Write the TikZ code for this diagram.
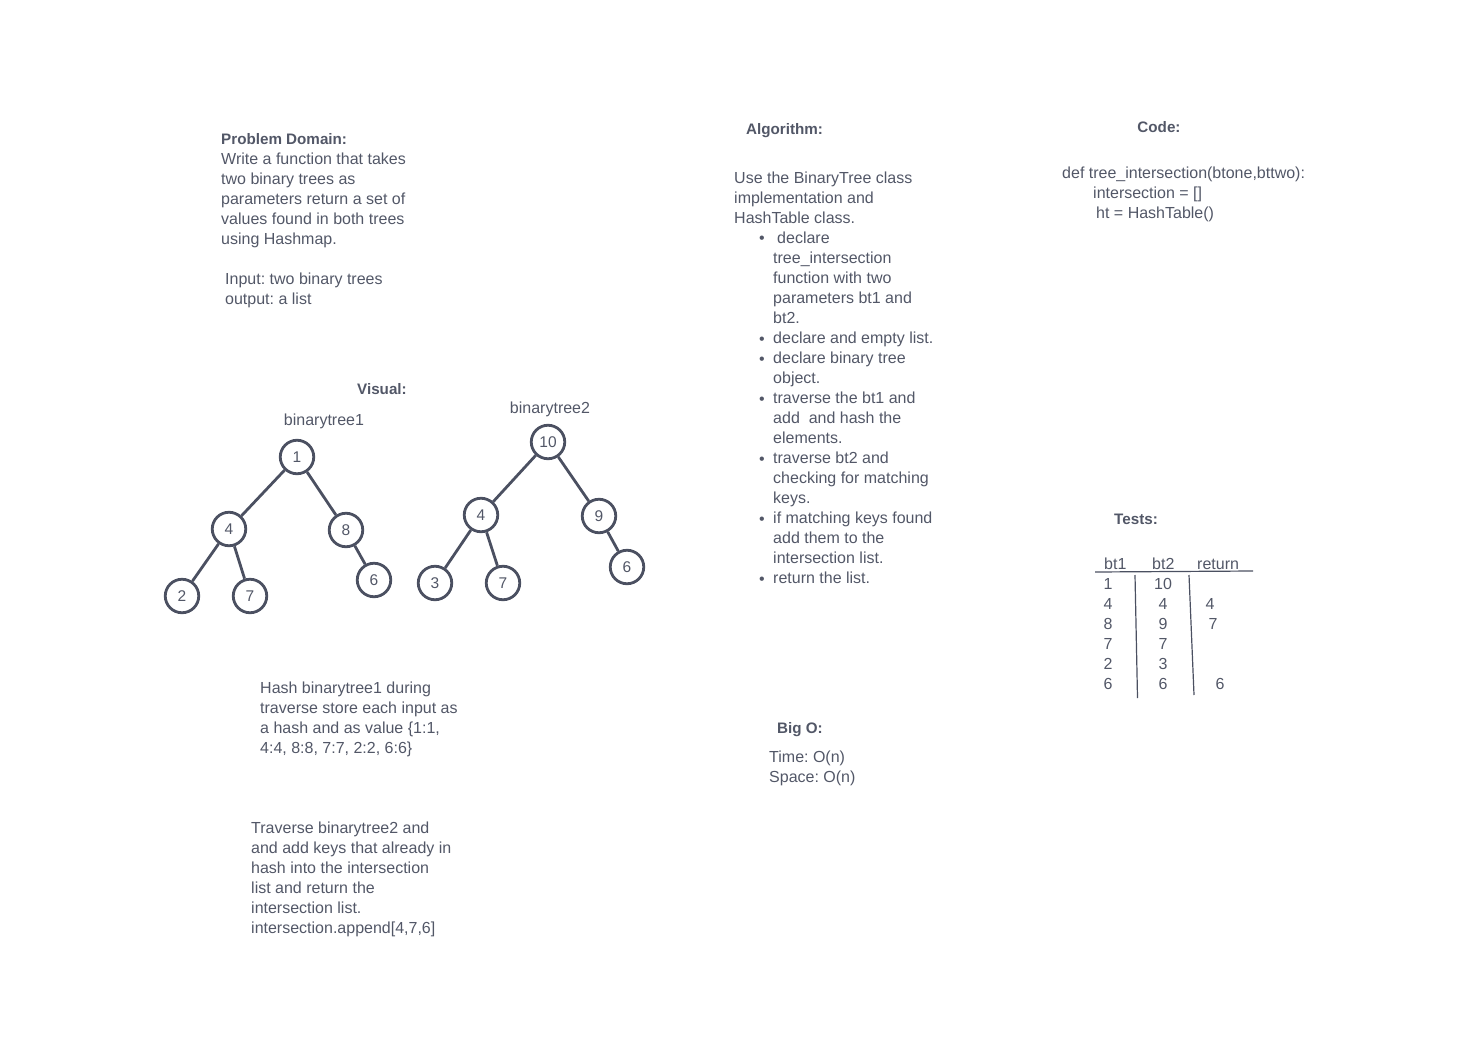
\documentclass[tikz,border=0pt]{standalone}
\usepackage{fontspec}
\setmainfont{Liberation Sans}
\frenchspacing
\definecolor{txtc}{HTML}{525767}
\definecolor{linec}{HTML}{4B5061}
\tikzset{
  txt/.style={inner sep=0pt, text=txtc, font=\fontsize{16}{20}\selectfont, anchor=base west},
  head/.style={txt, font=\fontsize{15.2}{20}\selectfont\bfseries},
  tnode/.style={circle, draw=linec, line width=2.8pt, minimum size=33.5pt, inner sep=0pt, text=txtc, font=\fontsize{15.5}{18}\selectfont},
  tedge/.style={draw=linec, line width=2.8pt},
  tline/.style={draw=linec, line width=1.2pt}
}
\newcommand\textblock[4]{%
  \foreach \t [count=\i from 0] in {#4} {
    \node[txt] (#1-\i) at (#2, {#3+20*\i}) {\t};
  }%
}
\begin{document}
\begin{tikzpicture}[x=1pt, y=-1pt]
\useasboundingbox (0,0) rectangle (1482,1054);
% Problem domain
\node[head] (pdh) at (221,144) {Problem Domain:};
\textblock{pd}{221}{164}{{Write a function that takes},{two binary trees as},{parameters return a set of},{values found in both trees},{using Hashmap.}}
\textblock{io}{225}{284}{{Input: two binary trees},{output: a list}}
% Visual
\node[head] (vis) at (357,394) {Visual:};
\node[txt, anchor=base] (bt1) at (324,425) {binarytree1};
\node[txt, anchor=base] (bt2) at (550,413) {binarytree2};
% tree 1
\node[tnode] (a1) at (297,457) {1};
\node[tnode] (a4) at (229,529) {4};
\node[tnode] (a8) at (346,530) {8};
\node[tnode] (a2) at (182,596) {2};
\node[tnode] (a7) at (250,596) {7};
\node[tnode] (a6) at (374,580) {6};
\draw[tedge] (a1) -- (a4);
\draw[tedge] (a1) -- (a8);
\draw[tedge] (a4) -- (a2);
\draw[tedge] (a4) -- (a7);
\draw[tedge] (a8) -- (a6);
% tree 2
\node[tnode] (b10) at (548,442) {10};
\node[tnode] (b4) at (481,515) {4};
\node[tnode] (b9) at (599,516) {9};
\node[tnode] (b3) at (435,583) {3};
\node[tnode] (b7) at (503,583) {7};
\node[tnode] (b6) at (627,567) {6};
\draw[tedge] (b10) -- (b4);
\draw[tedge] (b10) -- (b9);
\draw[tedge] (b4) -- (b3);
\draw[tedge] (b4) -- (b7);
\draw[tedge] (b9) -- (b6);
% hash text
\textblock{hs}{260}{693}{{Hash binarytree1 during},{traverse store each input as},{a hash and as value \{1:1,},{4:4, 8:8, 7:7, 2:2, 6:6\}}}
\textblock{tr}{251}{833}{{Traverse binarytree2 and},{and add keys that already in},{hash into the intersection},{list and return the},{intersection list.},{intersection.append[4,7,6]}}
% Algorithm
\node[head] (alh) at (746,135) {Algorithm:};
\textblock{al}{734}{183}{{Use the BinaryTree class},{implementation and},{HashTable class.}}
\node[txt] (al1) at (777,243) {declare};
\textblock{ab}{773}{263}{{tree\_intersection},{function with two},{parameters bt1 and},{bt2.},{declare and empty list.},{declare binary tree},{object.},{traverse the bt1 and},{add\ \ and hash the},{elements.},{traverse bt2 and},{checking for matching},{keys.},{if matching keys found},{add them to the},{intersection list.},{return the list.}}
\foreach \yy [count=\k] in {243,344,364,404,464,524,584} {
  \node[txt] (bul\k) at (759,\yy) {•};
}
% Code
\node[head, anchor=base] (codeh) at (1159,132) {Code:};
\node[txt] (c1) at (1062,178) {def tree\_intersection(btone,bttwo):};
\node[txt] (c2) at (1093,198) {intersection = []};
\node[txt] (c3) at (1096,218) {ht = HashTable()};
% Tests
\node[head] (testh) at (1114,524) {Tests:};
\node[txt] (h1) at (1104,569) {bt1};
\node[txt] (h2) at (1152,569) {bt2};
\node[txt] (h3) at (1197,569) {return};
\draw[tline] (1095,572) -- (1253,571);
\draw[tline] (1135,575) -- (1137.5,698);
\draw[tline] (1189,575) -- (1194,695);
\foreach \p/\q/\r [count=\k] in {1/10/,4/4/4,8/9/7,7/7/,2/3/,6/6/} {
  \node[txt, anchor=base] (r\k a) at (1108,{569+20*\k}) {\p};
  \node[txt, anchor=base] (r\k b) at (1163,{569+20*\k}) {\q};
}
\node[txt, anchor=base] (r2c) at (1210,609) {4};
\node[txt, anchor=base] (r3c) at (1213,629) {7};
\node[txt, anchor=base] (r6c) at (1220,689) {6};
% Big O
\node[head] (bigo) at (777,733) {Big O:};
\node[txt] (bo1) at (769,762) {Time: O(n)};
\node[txt] (bo2) at (769,782) {Space: O(n)};
\end{tikzpicture}
\end{document}
